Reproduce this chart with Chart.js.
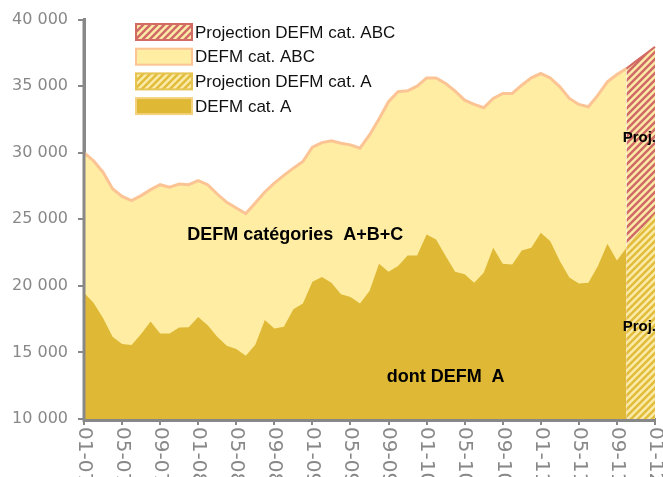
<!DOCTYPE html>
<html>
<head>
<meta charset="utf-8">
<script src="https://cdn.jsdelivr.net/npm/chart.js@4/dist/chart.umd.min.js"></script>
<style>
  html, body { margin: 0; padding: 0; background: #fff; }
  #wrap { width: 663px; height: 477px; }
</style>
</head>
<body>
<div id="wrap"><canvas id="c" width="663" height="477"></canvas></div>
<script>
// ---- DATA ----
const months = ['01','02','03','04','05','06','07','08','09','10','11','12'];
const years = ['07','08','09','10','11'];
const categories = [];
years.forEach(y => months.forEach(m => categories.push(m + '-' + y)));
categories.push('01-12');

// DEFM cat. ABC (01-07 .. 10-11)
const defmABC = [30000, 29400, 28540, 27300, 26720, 26400, 26780, 27230, 27600, 27420,
                 27650, 27600, 27900, 27600, 26900, 26270, 25850, 25430, 26220, 27050,
                 27720, 28300, 28840, 29340, 30410, 30760, 30890, 30710, 30590, 30340,
                 31340, 32540, 33830, 34580, 34650, 35000, 35620, 35620, 35200, 34630,
                 33950, 33630, 33380, 34080, 34450, 34450, 35070, 35620, 35950, 35620,
                 34950, 34080, 33630, 33450, 34330, 35330, 35880, 36320];
// DEFM cat. A (01-07 .. 10-11)
const defmA = [19490, 18740, 17580, 16180, 15630, 15560, 16380, 17330, 16430, 16430,
               16880, 16900, 17670, 17050, 16180, 15500, 15260, 14760, 15580, 17430,
               16800, 16930, 18250, 18670, 20310, 20670, 20240, 19370, 19170, 18670,
               19620, 21660, 21060, 21490, 22290, 22290, 23860, 23490, 22240, 21060,
               20870, 20240, 20990, 22860, 21660, 21610, 22660, 22860, 23990, 23360,
               21860, 20620, 20170, 20240, 21490, 23160, 21910, 22860];
// Projections
const projectionMonths = ['10-11', '11-11', '12-11', '01-12'];
const projABC = [36320, 36880, 37420, 37950];
const projA = [22860, 23700, 24550, 25400];

const yTicks = [10000, 15000, 20000, 25000, 30000, 35000, 40000];
const seriesLabels = ['Projection DEFM cat. ABC', 'DEFM cat. ABC', 'Projection DEFM cat. A', 'DEFM cat. A'];

// ---- helpers ----
const full = arr => categories.map((_, i) => i < arr.length ? arr[i] : null);
const fullProj = arr => categories.map(c => {
  const k = projectionMonths.indexOf(c);
  return k >= 0 ? arr[k] : null;
});
function hatch(bg, fg) {
  const c = document.createElement('canvas');
  c.width = 7; c.height = 7;
  const g = c.getContext('2d');
  g.fillStyle = bg; g.fillRect(0, 0, 7, 7);
  g.strokeStyle = fg; g.lineWidth = 2.5;
  g.beginPath();
  g.moveTo(-2, 9); g.lineTo(9, -2);
  g.moveTo(-2, 2); g.lineTo(2, -2);
  g.moveTo(5, 9); g.lineTo(9, 5);
  g.stroke();
  return g.createPattern(c, 'repeat');
}
const redHatch = hatch('#FCEBA6', '#D06A66');
const goldHatch = hatch('#FBEAA8', '#E2BD3C');

const styles = [
  { fill: redHatch, border: '#D36A64' },
  { fill: '#FEEDA3', border: '#FCC495' },
  { fill: goldHatch, border: '#E6C452' },
  { fill: '#DFB935', border: '#F3D27E' }
];

const fmt = v => String(v).replace(/\B(?=(\d{3})+(?!\d))/g, ' ');
const AXIS = '#888888';

const overlay = {
  id: 'overlay',
  afterDatasetsDraw(chart) {
    const ctx = chart.ctx;
    const a = chart.chartArea;
    ctx.save();
    ctx.strokeStyle = AXIS;
    ctx.lineWidth = 3;
    ctx.beginPath();
    ctx.moveTo(a.left, a.top);
    ctx.lineTo(a.left, a.bottom + 1.5);
    ctx.lineTo(a.right, a.bottom + 1.5);
    ctx.stroke();
    ctx.restore();
  },
  afterDraw(chart) {
    const ctx = chart.ctx;
    const xs = chart.scales.x, ys = chart.scales.y;
    const area = chart.chartArea;
    ctx.save();
    // x labels rotated (top-to-bottom)
    ctx.fillStyle = AXIS;
    ctx.font = '20px "DejaVu Sans"';
    ctx.textAlign = 'left';
    ctx.textBaseline = 'middle';
    categories.forEach((lab, i) => {
      if (i % 4 !== 0) return;
      const x = xs.getPixelForValue(i);
      ctx.save();
      ctx.translate(x, area.bottom + 8);
      ctx.rotate(Math.PI / 2);
      ctx.fillText(lab, 0, 0);
      ctx.restore();
    });
    // legend
    ctx.font = '17px "Liberation Sans", Arial, sans-serif';
    ctx.textAlign = 'left';
    ctx.textBaseline = 'middle';
    seriesLabels.forEach((lab, i) => {
      const cy = 32 + i * 24.7;
      const st = styles[i];
      ctx.fillStyle = st.fill;
      ctx.fillRect(136, cy - 8, 56, 16);
      ctx.strokeStyle = st.border;
      ctx.lineWidth = 2;
      ctx.strokeRect(136, cy - 8, 56, 16);
      ctx.fillStyle = '#111111';
      ctx.fillText(lab, 195, cy + 1);
    });
    // annotations
    ctx.fillStyle = '#000000';
    ctx.textAlign = 'center';
    ctx.font = 'bold 18px "Liberation Sans", Arial, sans-serif';
    ctx.fillText('DEFM catégories  A+B+C', xs.getPixelForValue(22.2), ys.getPixelForValue(23800));
    ctx.fillText('dont DEFM  A', xs.getPixelForValue(38.0), ys.getPixelForValue(13130));
    ctx.font = 'bold 15px "Liberation Sans", Arial, sans-serif';
    ctx.textAlign = 'right';
    ctx.fillText('Proj.', area.right + 1, ys.getPixelForValue(31080));
    ctx.fillText('Proj.', area.right + 1, ys.getPixelForValue(16950));
    ctx.restore();
  }
};

new Chart(document.getElementById('c'), {
  type: 'line',
  data: {
    labels: categories,
    datasets: [
      { label: seriesLabels[0], data: fullProj(projABC), fill: 'start', order: 3,
        backgroundColor: styles[0].fill, borderColor: styles[0].border, borderWidth: 2 },
      { label: seriesLabels[1], data: full(defmABC), fill: 'start', order: 4,
        backgroundColor: styles[1].fill, borderColor: styles[1].border, borderWidth: 3 },
      { label: seriesLabels[2], data: fullProj(projA), fill: 'start', order: 1,
        backgroundColor: styles[2].fill, borderColor: styles[2].border, borderWidth: 1 },
      { label: seriesLabels[3], data: full(defmA), fill: 'start', order: 2,
        backgroundColor: styles[3].fill, borderColor: styles[3].fill, borderWidth: 0 }
    ]
  },
  options: {
    responsive: false,
    animation: false,
    devicePixelRatio: 1,
    layout: { padding: { top: 18, right: 8, left: 0, bottom: 0 } },
    elements: { point: { radius: 0, hoverRadius: 0 }, line: { tension: 0 } },
    plugins: { legend: { display: false }, tooltip: { enabled: false } },
    scales: {
      x: {
        type: 'category',
        offset: false,
        ticks: { display: false, autoSkip: false },
        grid: {
          display: true, drawOnChartArea: false, drawTicks: true, tickLength: 6,
          lineWidth: 2,
          color: c => (c.index % 4 === 0 ? AXIS : 'rgba(0,0,0,0)')
        },
        border: { display: true, color: AXIS, width: 3 },
        afterFit: s => { s.height = 58; }
      },
      y: {
        min: 10000, max: 40000,
        afterBuildTicks: s => { s.ticks = yTicks.map(v => ({ value: v })); },
        ticks: {
          color: AXIS,
          font: { family: 'DejaVu Sans', size: 16 },
          padding: 10,
          callback: v => fmt(v)
        },
        grid: { display: true, drawOnChartArea: false, drawTicks: true, tickLength: 6, lineWidth: 2, color: AXIS },
        border: { display: true, color: AXIS, width: 3 },
        afterFit: s => { s.width = 84; }
      }
    }
  },
  plugins: [overlay]
});
</script>
</body>
</html>
